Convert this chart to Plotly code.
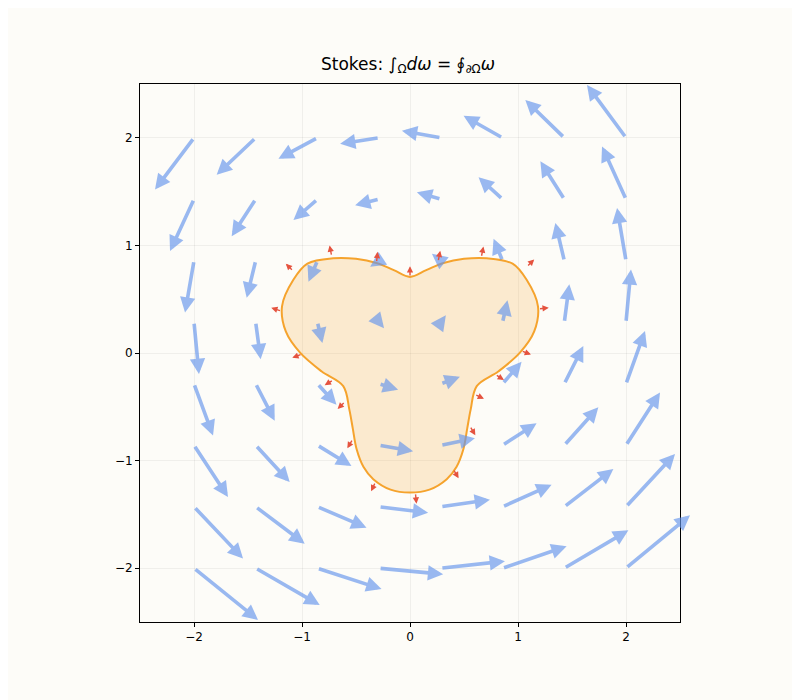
import plotly.graph_objects as go

# quiver grid
grid_x = [-2.0, -1.429, -0.857, -0.286, 0.286, 0.857, 1.429, 2.0]
grid_y = [2.0, 1.429, 0.857, 0.286, -0.286, -0.857, -1.429, -2.0]
# field components (u varies by row, v by column)
u_by_row = [-0.361, -0.222, -0.083, 0.046, 0.176, 0.315, 0.454, 0.593]
v_by_col = [-0.481, -0.343, -0.194, -0.056, 0.065, 0.204, 0.352, 0.491]

# boundary of the region Omega
bnd_x = [0.0, -0.15, -0.31, -0.5, -0.71, -0.95, -1.08, -1.185, -1.15, -1.02, -0.82,
         -0.618, -0.562, -0.53, -0.494, -0.43, -0.34, -0.18, 0.0,
         0.18, 0.34, 0.43, 0.494, 0.53, 0.562, 0.618, 0.82, 1.02, 1.15, 1.185,
         1.08, 0.95, 0.71, 0.5, 0.31, 0.15, 0.0]
bnd_y = [0.707, 0.77, 0.837, 0.875, 0.88, 0.83, 0.68, 0.434, 0.2, 0.005, -0.17,
         -0.308, -0.524, -0.7, -0.895, -1.06, -1.173, -1.27, -1.297,
         -1.27, -1.173, -1.06, -0.895, -0.7, -0.524, -0.308, -0.17, 0.005, 0.2, 0.434,
         0.68, 0.83, 0.88, 0.875, 0.837, 0.77, 0.707]

# outward normals on the boundary
nrm_x = [0.0, 0.26, 0.66, 1.08, 1.19, 1.03, 0.79, 0.60, 0.555, 0.40, 0.05,
         -0.32, -0.53, -0.60, -0.71, -1.0, -1.19, -1.08, -0.725, -0.31]
nrm_y = [0.707, 0.85, 0.89, 0.80, 0.41, 0.02, -0.2, -0.385, -0.68, -1.08, -1.30,
         -1.20, -0.80, -0.45, -0.25, -0.01, 0.39, 0.76, 0.9, 0.84]
nrm_u = [0.0, 0.02, 0.02, 0.07, 0.095, 0.09, 0.08, 0.085, 0.05, 0.05, 0.01,
         -0.04, -0.05, -0.07, -0.08, -0.09, -0.095, -0.07, -0.02, 0.01]
nrm_v = [0.1, 0.1, 0.1, 0.07, 0.01, -0.035, -0.05, -0.04, -0.085, -0.085, -0.1,
         -0.085, -0.085, -0.07, -0.05, -0.035, 0.03, 0.07, 0.1, 0.1]

fig = go.Figure()
fig.add_trace(go.Scatter(
    x=bnd_x, y=bnd_y, mode="lines", line=dict(color="#f5a32d", width=2, shape="spline"),
    fill="toself", fillcolor="rgba(245,163,45,0.2)", hoverinfo="skip", showlegend=False))

arrows = []
for j, y in enumerate(grid_y):
    for i, x in enumerate(grid_x):
        arrows.append(dict(
            x=x + u_by_row[j], y=y + v_by_col[i], ax=x, ay=y,
            xref="x", yref="y", axref="x", ayref="y", text="", showarrow=True,
            arrowhead=2, arrowsize=0.85, arrowwidth=3.6, arrowcolor="rgba(100,149,237,0.65)"))
for x, y, u, v in zip(nrm_x, nrm_y, nrm_u, nrm_v):
    arrows.append(dict(
        x=x + u, y=y + v, ax=x, ay=y,
        xref="x", yref="y", axref="x", ayref="y", text="", showarrow=True,
        arrowhead=2, arrowsize=0.9, arrowwidth=1.4, arrowcolor="#e5533f"))

axis = dict(range=[-2.5, 2.5], tickvals=[-2, -1, 0, 1, 2],
            ticktext=["\u22122", "\u22121", "0", "1", "2"],
            ticks="outside", ticklen=4, tickcolor="black",
            showline=True, linecolor="black", linewidth=1, mirror=True,
            showgrid=True, gridcolor="rgba(0,0,0,0.05)", zeroline=False,
            tickfont=dict(size=12, color="black"))
fig.update_layout(
    width=800, height=700,
    margin=dict(l=132, r=128, t=76, b=86),
    paper_bgcolor="#fdfcf8", plot_bgcolor="#fdfcf8",
    font=dict(family="DejaVu Sans", color="black"),
    title=dict(text="Stokes: \u222b<sub>\u03a9</sub><i>d\u03c9</i> = \u222e<sub>\u2202\u03a9</sub><i>\u03c9</i>",
               x=0.5, xanchor="center", y=0.912, yanchor="bottom", font=dict(size=17)),
    xaxis=axis, yaxis=axis, annotations=arrows, showlegend=False)

fig.write_html("out.html")
